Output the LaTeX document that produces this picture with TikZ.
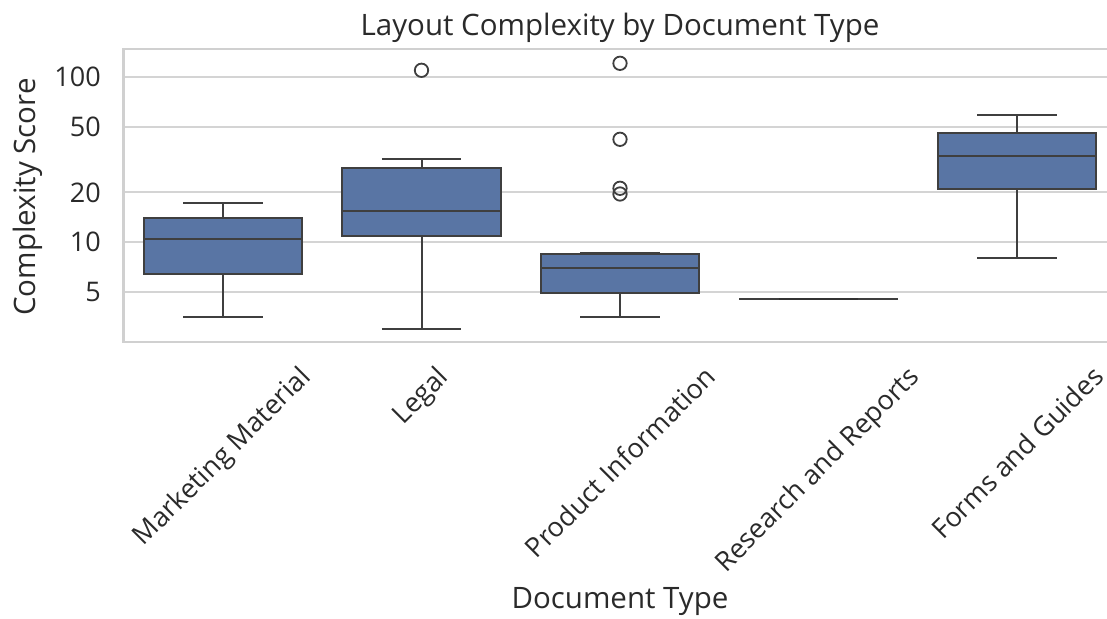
\documentclass[tikz,border=0pt]{standalone}
\usepackage{fontspec}
\setmainfont{Open Sans}
\usepackage{graphicx}
\definecolor{txt}{HTML}{2A2A2A}
\definecolor{gridc}{HTML}{D4D4D4}
\definecolor{spinec}{HTML}{D0D0D0}
\definecolor{boxfill}{HTML}{5975A4}
\definecolor{boxline}{HTML}{3F3F3F}

% pixel-like units: x grows right, y grows down
\tikzset{
  gridline/.style={draw=gridc, line width=2},
  spine/.style={draw=spinec, line width=2.6},
  boxbody/.style={fill=boxfill, draw=boxline, line width=2},
  boxstroke/.style={draw=boxline, line width=2},
  flier/.style={draw=boxline, line width=1.8, fill=none},
  ticklab/.style={text=txt, font=\fontsize{27}{31}\selectfont, inner sep=0},
  axlab/.style={text=txt, font=\fontsize{29.5}{34}\selectfont, inner sep=0},
}

% \bxp{centre}{q3}{median}{q1}{upper whisker}{lower whisker}
\newcommand\bxp[6]{%
  \draw[boxstroke] (#1,#2) -- (#1,#5) (#1-39.7,#5) -- (#1+39.7,#5);
  \draw[boxstroke] (#1,#4) -- (#1,#6) (#1-39.7,#6) -- (#1+39.7,#6);
  \draw[boxbody] (#1-79.4,#2) rectangle (#1+79.4,#4);
  \draw[boxstroke] (#1-79.4,#3) -- (#1+79.4,#3);
}

\begin{document}
\begin{tikzpicture}[x=1pt,y=-1pt]
\useasboundingbox (0,0) rectangle (1107,618);

% horizontal grid at 5, 10, 20, 50, 100 (log scale)
\foreach \v/\lab in {5/5,10/10,20/20,50/50,100/100}{
  \pgfmathsetmacro\yy{242.3-165.6*log10(\v/10)}
  \draw[gridline] (123.75,\yy) -- (1116,\yy);
  \node[ticklab, anchor=east] (ytick\v) at (101,\yy) {\lab};
}

% axes frame
\draw[spine] (123.75,49) rectangle (1116,342);

% boxes
\bxp{223}{217.7}{239.3}{274.3}{202.7}{317}
\bxp{421.5}{167.7}{211}{236}{159.3}{329}
\bxp{620}{254.3}{267.7}{292.7}{253.3}{317}
\bxp{1017}{133.3}{156.3}{189.3}{115}{257.7}

% collapsed box: all quartiles and whiskers coincide
\draw[boxstroke, line width=2.2] (739.1,299) -- (897.9,299);
\draw[draw=boxline!80!black, line width=2.6] (778.8,299) -- (858.2,299);

% outliers
\draw[flier] (421.5,70.3) circle (6.7);
\draw[flier] (620,63.3) circle (6.7);
\draw[flier] (620,139.3) circle (6.7);
\draw[flier] (620,188.3) circle (6.7);
\draw[flier] (620,194) circle (6.7);

% category labels
\foreach \cx/\name/\lab in {223/mm/Marketing Material,421.5/lg/Legal,620/pi/Product Information,818.5/rr/Research and Reports,1017/fg/Forms and Guides}{
  \node[ticklab, anchor=north] (xtick\name) at (\cx,364) {\rotatebox{45}{\lab}};
}

% titles
\node[axlab] (title) at (620,28.3) {Layout Complexity by Document Type};
\node[axlab] (xlabel) at (620,601.5) {Document Type};
\node[axlab, rotate=90] (ylabel) at (27.5,197) {Complexity Score};
\end{tikzpicture}
\end{document}
